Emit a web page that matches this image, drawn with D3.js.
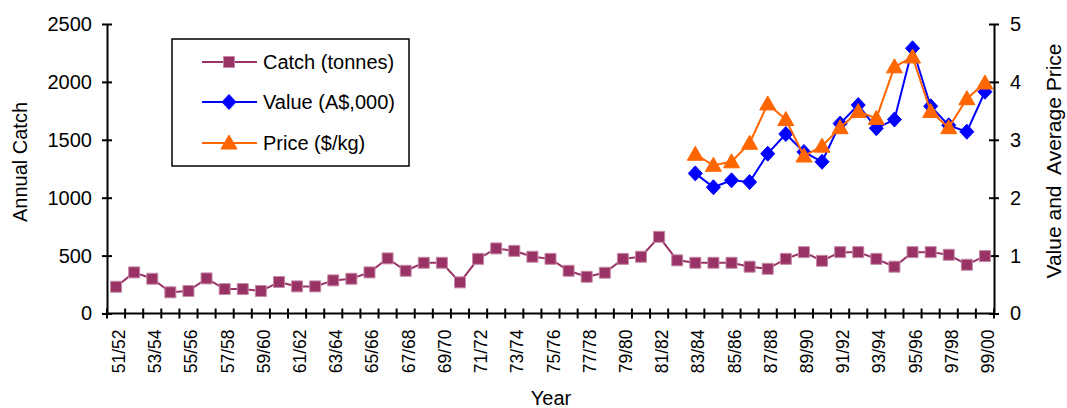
<!DOCTYPE html>
<html>
<head>
<meta charset="utf-8">
<script src="https://cdn.jsdelivr.net/npm/d3@7"></script>
<style>
  html, body { margin: 0; padding: 0; background: #fff; }
  svg { display: block; font-family: "Liberation Sans", Arial, sans-serif; }
</style>
</head>
<body>
<svg id="chart" width="1067" height="408"></svg>
<script>
// Fishing seasons, 1951/52 to 1999/00
const seasons = [
  "51/52","52/53","53/54","54/55","55/56","56/57","57/58","58/59","59/60","60/61",
  "61/62","62/63","63/64","64/65","65/66","66/67","67/68","68/69","69/70","70/71",
  "71/72","72/73","73/74","74/75","75/76","76/77","77/78","78/79","79/80","80/81",
  "81/82","82/83","83/84","84/85","85/86","86/87","87/88","88/89","89/90","90/91",
  "91/92","92/93","93/94","94/95","95/96","96/97","97/98","98/99","99/00"
];

// Annual catch (tonnes), left axis
const catchTonnes = [
  231, 355, 300, 183, 194, 303, 211, 211, 194, 272,
  234, 234, 286, 300, 355, 476, 369, 438, 438, 269,
  472, 562, 541, 490, 472, 369, 317, 352, 472, 490,
  662, 459, 438, 438, 438, 404, 386, 472, 530, 455,
  530, 530, 472, 404, 530, 530, 507, 421, 496
];

// Value and price are recorded from 1983/84 onward, right axis
const valueSeasons = seasons.slice(seasons.indexOf("83/84"));
const valueSeries = [2.42, 2.18, 2.30, 2.27, 2.76, 3.10, 2.79, 2.62, 3.28, 3.60, 3.20, 3.35, 4.58, 3.58, 3.25, 3.14, 3.83];
const priceSeries = [2.75, 2.56, 2.62, 2.94, 3.62, 3.35, 2.72, 2.89, 3.21, 3.49, 3.37, 4.26, 4.43, 3.49, 3.21, 3.71, 3.98];

const leftTicks = [0, 500, 1000, 1500, 2000, 2500];
const rightTicks = [0, 1, 2, 3, 4, 5];
const xLabelSeasons = seasons.filter((d, i) => i % 2 === 0);

const colCatch = "#993366", colValue = "#0000ff", colPrice = "#ff6600";

const svg = d3.select("#chart");
const plot = { left: 107, right: 994, top: 24, bottom: 313.5 };

const x = d3.scaleBand().domain(seasons).range([plot.left, plot.right]);
const yL = d3.scaleLinear().domain([0, 2500]).range([plot.bottom, plot.top]);
const yR = d3.scaleLinear().domain([0, 5]).range([plot.bottom, plot.top]);
const cx = d => x(d) + x.bandwidth() / 2;

// Left axis
const gL = svg.append("g").attr("transform", `translate(${plot.left},0)`)
  .call(d3.axisLeft(yL).tickValues(leftTicks).tickFormat(d3.format("d")).tickSize(0).tickPadding(15));
gL.select(".domain").attr("stroke", "#000").attr("stroke-width", 2);
gL.selectAll(".tick text").attr("font-size", 20).attr("fill", "#000")
  .attr("font-family", "Liberation Sans, Arial, sans-serif");
gL.selectAll(".tick").append("line").attr("x1", -5).attr("x2", 5)
  .attr("stroke", "#000").attr("stroke-width", 2);

// Right axis
const gR = svg.append("g").attr("transform", `translate(${plot.right},0)`)
  .call(d3.axisRight(yR).tickValues(rightTicks).tickFormat(d3.format("d")).tickSize(0).tickPadding(16));
gR.select(".domain").attr("stroke", "#000").attr("stroke-width", 2);
gR.selectAll(".tick text").attr("font-size", 20).attr("fill", "#000")
  .attr("font-family", "Liberation Sans, Arial, sans-serif");
gR.selectAll(".tick").append("line").attr("x1", -5).attr("x2", 5)
  .attr("stroke", "#000").attr("stroke-width", 2);

// Bottom axis: ticks on category boundaries, labels on every other season
const gB = svg.append("g").attr("transform", `translate(0,${plot.bottom})`);
gB.append("line").attr("x1", plot.left).attr("x2", plot.right)
  .attr("stroke", "#000").attr("stroke-width", 2);
const boundaries = seasons.map(d => x(d)).concat([plot.right]);
gB.selectAll("line.tick").data(boundaries).join("line").attr("class", "tick")
  .attr("x1", d => d).attr("x2", d => d).attr("y1", -5).attr("y2", 5)
  .attr("stroke", "#000").attr("stroke-width", 2);
gB.selectAll("text").data(xLabelSeasons).join("text")
  .attr("transform", d => `translate(${cx(d) + 9},${16}) rotate(-90)`)
  .attr("text-anchor", "end")
  .attr("font-size", 17.5).attr("fill", "#000")
  .text(d => d);

// Axis titles
svg.append("text").attr("transform", "translate(27,162) rotate(-90)")
  .attr("text-anchor", "middle").attr("font-size", 20).text("Annual Catch");
svg.append("text").attr("transform", "translate(1061,161) rotate(-90)")
  .attr("text-anchor", "middle").attr("font-size", 21).attr("xml:space", "preserve")
  .style("white-space", "pre").text("Value and  Average Price");
svg.append("text").attr("x", 551).attr("y", 405)
  .attr("text-anchor", "middle").attr("font-size", 20).text("Year");

// Marker shapes
const sqSym = d3.symbol().type(d3.symbolSquare).size(121);
const diaSym = "M0,-7.5L7,0L0,7.5L-7,0Z";
const triSym = "M0,-8L8,6L-8,6Z";

function drawSeries(data, cats, yScale, color, sym, strokeCol) {
  const pts = cats.map((c, i) => [cx(c), yScale(data[i])]);
  svg.append("path").datum(pts)
    .attr("d", d3.line())
    .attr("fill", "none").attr("stroke", color).attr("stroke-width", 2);
  svg.append("g").selectAll("path").data(pts).join("path")
    .attr("transform", d => `translate(${d[0]},${d[1]})`)
    .attr("d", sym)
    .attr("fill", color)
    .attr("stroke", strokeCol).attr("stroke-width", 1);
}

drawSeries(catchTonnes, seasons, yL, colCatch, sqSym, "#c48aa7");
drawSeries(valueSeries, valueSeasons, yR, colValue, diaSym, colValue);
drawSeries(priceSeries, valueSeasons, yR, colPrice, triSym, colPrice);

// Legend
const legend = svg.append("g");
legend.append("rect").attr("x", 172).attr("y", 39).attr("width", 237).attr("height", 127)
  .attr("fill", "#fff").attr("stroke", "#000").attr("stroke-width", 1.5);
const legendItems = [
  { label: "Catch (tonnes)", color: colCatch, sym: sqSym, stroke: "#c48aa7", y: 62 },
  { label: "Value (A$,000)", color: colValue, sym: diaSym, stroke: colValue, y: 102 },
  { label: "Price ($/kg)", color: colPrice, sym: triSym, stroke: colPrice, y: 143 }
];
legendItems.forEach(it => {
  legend.append("line").attr("x1", 202).attr("x2", 257).attr("y1", it.y).attr("y2", it.y)
    .attr("stroke", it.color).attr("stroke-width", 2);
  legend.append("path").attr("transform", `translate(229,${it.y})`).attr("d", it.sym)
    .attr("fill", it.color).attr("stroke", it.stroke).attr("stroke-width", 1);
  legend.append("text").attr("x", 263).attr("y", it.y).attr("dy", "0.35em")
    .attr("font-size", 20).text(it.label);
});
</script>
</body>
</html>
